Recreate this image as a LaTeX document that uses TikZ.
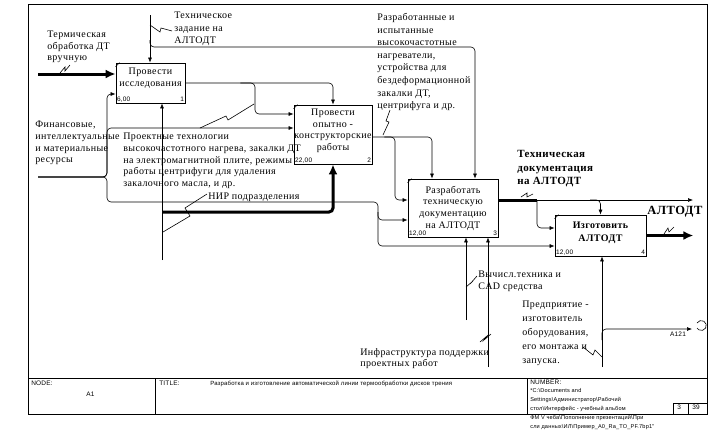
\documentclass[tikz,border=0pt]{standalone}
\usepackage{fontspec}
\setmainfont{Liberation Serif}[LetterSpace=4]
\newfontfamily\blocksans{Liberation Sans}[LetterSpace=3]
\usetikzlibrary{arrows.meta,positioning}
\begin{document}
\begin{tikzpicture}
[x=1pt,y=-1pt,line width=0.6pt,%
  box/.style={draw,line width=0.8pt,inner sep=0pt},%
  btext/.style={align=center,inner sep=0pt,font=\fontsize{10}{11.7}\selectfont},%
  bnum/.style={inner sep=1.2pt,font=\blocksans\fontsize{6.5}{7}\selectfont},%
  lab/.style={align=left,inner sep=0pt,anchor=north west,font=\fontsize{10}{11.7}\selectfont},%
  blab/.style={align=left,inner sep=0pt,anchor=north west,font=\fontsize{11}{13.5}\selectfont\bfseries},%
  blk/.style={align=left,inner sep=0pt,anchor=north west,font=\blocksans\fontsize{6.5}{8.6}\selectfont},%
  arr/.style={-{Latex[length=5pt,width=4pt]},rounded corners=4pt},%
  fat/.style={line width=3pt,-{Latex[length=10pt,width=9pt]},rounded corners=4pt},%
  frm/.style={line width=0.8pt}]
\useasboundingbox (0,0) rectangle (716,432);
% frame and title block
\draw[frm] (28,414) -- (28,4) -- (707,4) -- (707,414) -- cycle;
\draw[frm] (28,378) -- (707,378);
\draw[frm] (155,378) -- (155,414) (527,378) -- (527,414);
\draw[frm] (673,403) rectangle (707,414);
\draw[frm] (688,403) -- (688,414);
\node[blk] (node) at (31,381) {NODE:};
\node[blk] (nodeA) at (86,392) {A1};
\node[blk] (title) at (159,381) {TITLE:};
\node[blk,font=\blocksans\fontsize{6}{7}\selectfont] (titleT) at (210,381)
  {Разработка и изготовление автоматической линии термообработки дисков трения};
\node[blk] (number) at (530,380) {NUMBER:};
\node[blk,font=\blocksans\fontsize{5.6}{9}\selectfont] (path) at (530,388)
  {*C:\textbackslash Documents and\\
   Settings\textbackslash Администратор\textbackslash Рабочий\\
   стол\textbackslash Интерфейс - учебный альбом\\
   ФМ V чеба\textbackslash Пополнение презентаций\textbackslash При\\
   сли данных\textbackslash ИЛ\textbackslash Пример\_A0\_Ra\_TO\_PF.7bp1"};
\node[blk] (pg) at (677,405) {3};
\node[blk] (pgs) at (692,405) {39};
% boxes
\node[box,minimum width=69pt,minimum height=40pt] (b1) at (150.5,83) {};
\node[box,minimum width=78pt,minimum height=59pt] (b2) at (333,134.5) {};
\node[box,minimum width=90pt,minimum height=58pt] (b3) at (453,208) {};
\node[box,minimum width=91pt,minimum height=41pt] (b4) at (600.5,235.5) {};
\foreach \b in {b1,b2,b3,b4}
  \draw ([yshift=-4pt]\b.north west) -- ([xshift=4pt]\b.north west);
\node[btext,below=5pt of b1.north] (t1) {Провести\\исследования};
\node[btext,below=4pt of b2.north] (t2) {Провести\\опытно -\\конструкторские\\работы};
\node[btext,below=7pt of b3.north] (t3) {Разработать\\техническую\\документацию\\на АЛТОДТ};
\node[btext,below=7pt of b4.north,font=\fontsize{10}{13}\selectfont\bfseries] (t4) {Изготовить\\АЛТОДТ};
\node[bnum,anchor=south west] (c1) at (b1.south west) {6,00};
\node[bnum,anchor=south east] (n1) at (b1.south east) {1};
\node[bnum,anchor=south west] (c2) at (b2.south west) {22,00};
\node[bnum,anchor=south east] (n2) at (b2.south east) {2};
\node[bnum,anchor=south west] (c3) at (b3.south west) {12,00};
\node[bnum,anchor=south east] (n3) at (b3.south east) {3};
\node[bnum,anchor=south west] (c4) at (b4.south west) {12,00};
\node[bnum,anchor=south east] (n4) at (b4.south east) {4};
% free ends
\coordinate (inHand) at (38,74);
\coordinate (inRes) at (38,177);
\coordinate (ctlTask) at (150,15);
\coordinate (taskB3) at ([xshift=22pt]b3.north);
\coordinate (outB2) at ([yshift=-2.5pt]b2.east);
\coordinate (outB3) at ([yshift=8pt]b3.east);
\coordinate (jB3) at (537,200);
\coordinate (endDoc) at (693,200);
\coordinate (mechNir) at (162,260);
\coordinate (mechCad) at (466,320);
\coordinate (mechInf) at (488,367);
\coordinate (mechEnt) at (602,367);
\coordinate (tunnel) at (692,329);
% inputs
\draw[fat] (inHand) -- (inHand -| b1.west);
\draw[arr] (inRes) -| (107,94) -- (b1.west |- 0,94);
\draw[arr] (inRes) -| (107,128) -- (b2.west |- 0,128);
\draw[arr] (inRes) -| (107,202) -| (378,220) -- (b3.west |- 0,220);
\draw[arr] (378,212) |- (b4.west |- 0,246);
% controls
\draw[arr] (ctlTask) -- (ctlTask |- b1.north);
\draw[arr] ([yshift=-25pt]ctlTask) |- (taskB3 |- 0,47) -- (taskB3);
% outputs
\draw[arr] (b1.east) -| (b2.north);
\draw[arr] ([xshift=55pt]b1.east) -| (255,114) -- (b2.west |- 0,114);
\draw[arr] (outB2) -| ([xshift=-21pt]b3.north);
\draw[arr] ([xshift=12pt]outB2) -| (395,200) -- (b3.west |- 0,200);
\draw[line width=3pt] (outB3) -- (jB3);
\draw[arr] (jB3) -- (endDoc);
\draw[arr] (jB3) |- (b4.west |- 0,228);
\draw[arr] (590,200) -| (b4.north);
\draw[fat] (b4.east) -- ++(47,0);
% mechanisms
\draw[arr] (mechNir) -- (mechNir |- b1.south);
\draw[fat] (162,212) -| (b2.south);
\draw[arr] (mechCad) -- (mechCad |- b3.south);
\draw[arr] (mechInf) -- (mechInf |- b3.south);
\draw[arr] (mechEnt) -- (mechEnt |- b4.south);
\draw[arr] (602,340) |- (tunnel);
\draw (697,323) arc[start angle=150,end angle=-150,radius=5pt];
\node[bnum] (a121) at (678,334) {A121};
% labels
\node[lab,font=\fontsize{10}{11.5}\selectfont] (lHand) at (47,31) {Термическая\\обработка ДТ\\вручную};
\node[lab,font=\fontsize{10}{12.5}\selectfont] (lTask) at (174,12) {Техническое\\задание на\\АЛТОДТ};
\node[lab,font=\fontsize{10}{12.6}\selectfont] (lDev) at (377,13)
  {Разработанные и\\испытанные\\высокочастотные\\нагреватели,\\устройства для\\бездеформационной\\закалки ДТ,\\центрифуга и др.};
\node[lab] (lRes) at (35,121) {Финансовые,\\интеллектуальные\\и материальные\\ресурсы};
\node[lab] (lTech) at (123,133)
  {Проектные технологии\\высокочастотного нагрева, закалки ДТ\\на электромагнитной плите, режимы\\работы центрифуги для удаления\\закалочного масла, и др.};
\node[lab] (lNir) at (208,193) {НИР подразделения};
\node[blab] (lDoc) at (517,150) {Техническая\\документация\\на АЛТОДТ};
\node[blab,font=\fontsize{12.5}{14}\selectfont\bfseries] (lProd) at (647,206) {АЛТОДТ};
\node[lab] (lCad) at (478,271) {Вычисл.техника и\\CAD средства};
\node[lab] (lInf) at (360,348) {Инфраструктура поддержки\\проектных работ};
\node[lab,font=\fontsize{10}{14}\selectfont] (lEnt) at (522,301)
  {Предприятие -\\изготовитель\\оборудования,\\его монтажа и\\запуска.};
% squiggles
\draw (60,73) -- (65,67) -- (65,71) -- (70,65);
\draw (150,25) -- (160,32) -- (161,28) -- (172,31);
\draw (200,128) -- (226,116) -- (228,120) -- (254,104);
\draw (390,110) -- (386,121) -- (389,122) -- (383,135);
\draw (207,194) -- (185,208) -- (190,216) -- (163,232);
\draw (521,197) -- (527,193) -- (527,197) -- (533,194);
\draw (664,234) -- (668,228) -- (669,232) -- (674,227);
\draw (466,287) -- (473,281) -- (470,284) -- (477,276);
\draw (480,342) -- (487,336) -- (484,340) -- (491,334);
\draw (583,347) -- (593,355) -- (595,350) -- (602,357);
\end{tikzpicture}
\end{document}
